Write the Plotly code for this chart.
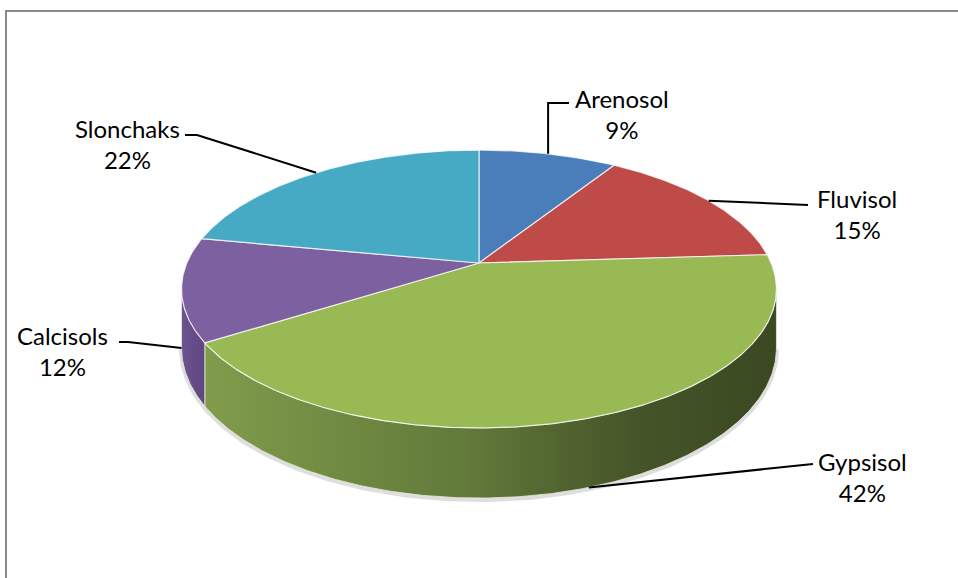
import numpy as np
import plotly.graph_objects as go

# Soil type shares (%)
soils = ["Arenosol", "Fluvisol", "Gypsisol", "Calcisols", "Slonchaks"]
shares = [9, 15, 42, 12, 22]
top_colors = ["#4a7ebb", "#be4b48", "#98b954", "#7d60a0", "#46aac5"]
side_scales = [
    [[0, "#3d6499"], [1, "#2c4a73"]],
    [[0, "#9b3b39"], [1, "#6e2927"]],
    [[0, "#809c4b"], [0.45, "#627a3a"], [0.75, "#455528"], [1, "#3b4822"]],
    [[0, "#6d5291"], [1, "#5e4680"]],
    [[0, "#3a8ea5"], [1, "#2b6b7c"]],
]

# Perspective projection of a flat disc seen from above and in front
CX, CY = 479.0, 263.0
RX, RY, K = 292.2, 134.1, 0.187
DEPTH = 57.0


def project(theta_deg):
    t = np.radians(theta_deg)
    u, v = np.sin(t), np.cos(t)
    d = 1 + K * v
    return CX + RX * u / d, CY - RY * v / d, DEPTH / d


def arc(a, b, step=0.5):
    n = max(2, int(abs(b - a) / step) + 1)
    return np.linspace(a, b, n)


bounds = np.concatenate([[0], np.cumsum(shares)]) * 3.6
silhouette = np.degrees(np.arccos(-K))
wall_lo, wall_hi = silhouette, 360 - silhouette

fig = go.Figure()

# soft shadow under the visible wall
th = arc(wall_lo, wall_hi)
sx, sy, sd = project(th)
fig.add_trace(go.Scatter(x=sx, y=sy + sd + 1.5, mode="lines",
                         line=dict(color="rgba(0,0,0,0.13)", width=5),
                         hoverinfo="skip", showlegend=False))

# side walls
for i in range(len(soils)):
    a, b = bounds[i], bounds[i + 1]
    lo, hi = max(a, wall_lo), min(b, wall_hi)
    if hi <= lo:
        continue
    th = arc(lo, hi)
    x, y, d = project(th)
    px = np.concatenate([x, x[::-1], x[:1]])
    py = np.concatenate([y, (y + d)[::-1], y[:1]])
    fig.add_trace(go.Scatter(
        x=px, y=py, mode="lines", fill="toself",
        fillgradient=dict(type="horizontal", colorscale=side_scales[i]),
        line=dict(color="rgba(230,235,220,0.8)", width=1),
        hoverinfo="skip", showlegend=False))

# top faces
for i in range(len(soils)):
    th = arc(bounds[i], bounds[i + 1])
    x, y, _ = project(th)
    px = np.concatenate([[CX], x, [CX]])
    py = np.concatenate([[CY], y, [CY]])
    fig.add_trace(go.Scatter(
        x=px, y=py, mode="lines", fill="toself", fillcolor=top_colors[i],
        line=dict(color="rgba(255,255,255,0.75)", width=1.2),
        hoverinfo="skip", showlegend=False))

# data labels with leader lines
label_pos = [(622, 114), (857, 214), (862, 477), (62, 351), (127, 144)]
leader_ends = [
    [(550, 103), (569, 103)],
    [(808, 205)],
    [(813, 464)],
    [(128, 342), (119, 342)],
    [(197, 135), (185, 135)],
]
for i, name in enumerate(soils):
    mid = (bounds[i] + bounds[i + 1]) / 2
    ax, ay, ad = project(mid)
    if wall_lo <= mid <= wall_hi:
        ay = ay + ad
    pts = [(ax, ay)] + leader_ends[i]
    if i == 0:
        pts = [(ax, ay), (ax, leader_ends[i][0][1]), leader_ends[i][1]]
    fig.add_trace(go.Scatter(
        x=[p[0] for p in pts], y=[p[1] for p in pts], mode="lines",
        line=dict(color="black", width=2),
        hoverinfo="skip", showlegend=False))
    fig.add_annotation(
        x=label_pos[i][0], y=label_pos[i][1], xref="x", yref="y",
        text=f"{name}<br>{shares[i]}%", showarrow=False,
        font=dict(family="Lato, Carlito, sans-serif", size=24, color="black"),
        align="center")

fig.update_layout(
    width=958, height=578,
    margin=dict(l=0, r=0, t=0, b=0),
    paper_bgcolor="white", plot_bgcolor="white",
    xaxis=dict(range=[0, 958], visible=False),
    yaxis=dict(range=[578, 0], visible=False),
    shapes=[dict(type="rect", xref="x", yref="y", x0=6, y0=11, x1=1000, y1=640,
                 line=dict(color="#8a8a8a", width=2), layer="below")],
)

fig.write_html("out.html")
